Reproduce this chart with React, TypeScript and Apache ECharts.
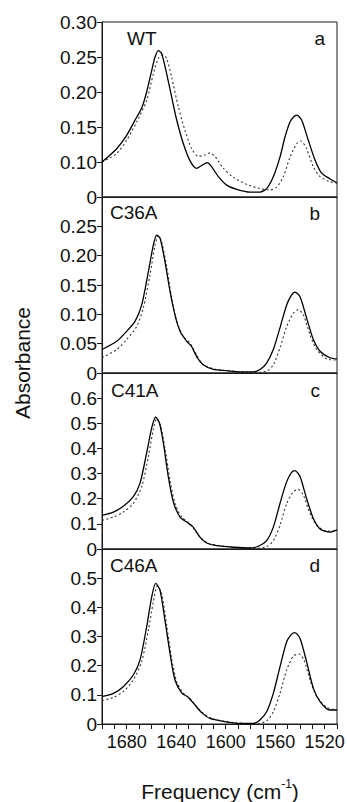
import React, { useEffect, useRef } from "react";
import * as echarts from "echarts";

// Frequency axis (cm-1), reversed
const freqMin = 1510;
const freqMax = 1700;
const freqTickStep = 10;
const freqLabelStep = 40;

// Panel names
const panelNames = ["WT", "C36A", "C41A", "C46A"];
const panelLetters = ["a", "b", "c", "d"];

// Y axis scales (panel a's bottom tick is printed as "0")
const yMins = [0.05, 0, 0, 0];
const yMaxs = [0.3, 0.3, 0.7, 0.6];
const yIntervals = [0.05, 0.05, 0.1, 0.1];
const yDecimals = [2, 2, 1, 1];

// [frequency, absorbance]
const wtSolid = [
  [1700, 0.1], [1688.1, 0.119], [1680.1, 0.138], [1672.0, 0.164], [1667.9, 0.177],
  [1663.9, 0.2], [1659.8, 0.231], [1657.1, 0.25], [1654.5, 0.259], [1651.8, 0.255],
  [1647.7, 0.226], [1643.7, 0.193], [1639.6, 0.16], [1634.2, 0.126], [1628.9, 0.102],
  [1623.5, 0.091], [1619.4, 0.095], [1614.8, 0.099], [1611.3, 0.093], [1605.9, 0.079],
  [1599.2, 0.067], [1591.1, 0.061], [1580.3, 0.057], [1572.3, 0.057], [1566.9, 0.062],
  [1561.5, 0.079], [1556.1, 0.107], [1552.0, 0.136], [1548.0, 0.157], [1545.3, 0.164],
  [1542.6, 0.167], [1538.6, 0.16], [1533.2, 0.131], [1527.8, 0.103], [1522.4, 0.084],
  [1515.8, 0.076], [1510, 0.07],
];
const wtDotted = [
  [1700, 0.1], [1688.1, 0.112], [1680.1, 0.131], [1672.0, 0.157], [1663.9, 0.188],
  [1658.5, 0.226], [1654.5, 0.248], [1650.4, 0.253], [1647.7, 0.248], [1643.7, 0.221],
  [1638.3, 0.179], [1632.9, 0.145], [1627.5, 0.119], [1622.1, 0.108], [1616.7, 0.11],
  [1612.7, 0.113], [1608.6, 0.108], [1601.9, 0.091], [1593.8, 0.078], [1583.0, 0.068],
  [1572.3, 0.062], [1564.2, 0.06], [1558.8, 0.064], [1553.4, 0.079], [1548.0, 0.107],
  [1542.6, 0.126], [1539.1, 0.13], [1534.6, 0.119], [1529.1, 0.093], [1523.7, 0.079],
  [1515.8, 0.072], [1510, 0.07],
];
const c36aSolid = [
  [1700, 0.04], [1688.1, 0.054], [1680.1, 0.071], [1673.3, 0.088], [1667.9, 0.116],
  [1662.5, 0.173], [1658.5, 0.218], [1655.8, 0.235], [1653.1, 0.23], [1649.1, 0.19],
  [1645.0, 0.139], [1641.0, 0.099], [1636.9, 0.071], [1631.5, 0.054], [1627.5, 0.045],
  [1623.5, 0.028], [1618.1, 0.014], [1610.0, 0.006], [1599.2, 0.004], [1588.4, 0.002],
  [1577.6, 0.002], [1572.3, 0.006], [1566.9, 0.017], [1561.5, 0.04], [1556.1, 0.077],
  [1550.7, 0.116], [1546.7, 0.133], [1544.0, 0.138], [1539.9, 0.13], [1534.6, 0.094],
  [1529.1, 0.057], [1523.7, 0.037], [1515.8, 0.026], [1510, 0.024],
];
const c36aDotted = [
  [1700, 0.026], [1688.1, 0.04], [1680.1, 0.057], [1672.0, 0.079], [1666.6, 0.111],
  [1661.2, 0.167], [1657.1, 0.218], [1654.5, 0.234], [1651.8, 0.224], [1647.7, 0.181],
  [1643.7, 0.128], [1639.6, 0.088], [1634.2, 0.062], [1628.9, 0.051], [1623.5, 0.031],
  [1618.1, 0.014], [1607.3, 0.006], [1593.8, 0.003], [1577.6, 0.001], [1566.9, 0.003],
  [1561.5, 0.014], [1556.1, 0.043], [1550.7, 0.079], [1545.3, 0.102], [1541.3, 0.108],
  [1537.2, 0.099], [1531.8, 0.065], [1526.4, 0.04], [1518.4, 0.024], [1510, 0.022],
];
const c41aSolid = [
  [1700, 0.134], [1690.8, 0.147], [1682.8, 0.17], [1674.7, 0.208], [1669.3, 0.261],
  [1663.9, 0.382], [1659.8, 0.482], [1656.6, 0.525], [1653.6, 0.502], [1650.4, 0.422],
  [1646.4, 0.288], [1642.3, 0.187], [1636.9, 0.127], [1631.5, 0.107], [1626.2, 0.087],
  [1620.8, 0.047], [1615.4, 0.024], [1607.3, 0.013], [1593.8, 0.007], [1580.3, 0.004],
  [1573.6, 0.011], [1566.9, 0.033], [1561.5, 0.087], [1556.1, 0.181], [1550.7, 0.268],
  [1546.7, 0.305], [1544.0, 0.312], [1539.9, 0.288], [1534.6, 0.201], [1529.1, 0.121],
  [1523.7, 0.08], [1515.8, 0.067], [1510, 0.076],
];
const c41aDotted = [
  [1700, 0.114], [1690.8, 0.127], [1682.8, 0.147], [1674.7, 0.181], [1667.9, 0.248],
  [1662.5, 0.368], [1658.5, 0.475], [1655.8, 0.518], [1652.6, 0.489], [1649.1, 0.402],
  [1645.0, 0.274], [1641.0, 0.181], [1635.6, 0.127], [1630.2, 0.107], [1624.8, 0.074],
  [1619.4, 0.04], [1612.7, 0.02], [1593.8, 0.007], [1574.9, 0.003], [1566.9, 0.009],
  [1561.5, 0.033], [1556.1, 0.094], [1550.7, 0.181], [1545.3, 0.228], [1541.3, 0.237],
  [1537.2, 0.214], [1531.8, 0.141], [1526.4, 0.094], [1518.4, 0.071], [1510, 0.074],
];
const c46aSolid = [
  [1700, 0.094], [1690.8, 0.105], [1682.8, 0.128], [1674.7, 0.168], [1669.3, 0.219],
  [1663.9, 0.333], [1659.8, 0.436], [1656.6, 0.482], [1653.1, 0.459], [1649.1, 0.356],
  [1645.0, 0.242], [1641.0, 0.151], [1635.6, 0.107], [1630.2, 0.091], [1624.8, 0.065],
  [1619.4, 0.039], [1612.7, 0.019], [1601.9, 0.009], [1588.4, 0.002], [1577.6, 0.002],
  [1572.3, 0.014], [1566.9, 0.042], [1561.5, 0.105], [1556.1, 0.196], [1550.7, 0.282],
  [1546.7, 0.308], [1544.0, 0.313], [1539.9, 0.293], [1534.6, 0.214], [1529.1, 0.122],
  [1523.7, 0.077], [1515.8, 0.048], [1510, 0.048],
];
const c46aDotted = [
  [1700, 0.08], [1690.8, 0.091], [1682.8, 0.111], [1674.7, 0.151], [1667.9, 0.214],
  [1662.5, 0.322], [1658.5, 0.419], [1655.3, 0.473], [1651.8, 0.448], [1647.7, 0.339],
  [1643.7, 0.225], [1639.6, 0.145], [1634.2, 0.105], [1628.9, 0.088], [1623.5, 0.059],
  [1618.1, 0.037], [1610.0, 0.017], [1593.8, 0.005], [1574.9, 0.0], [1566.9, 0.011],
  [1561.5, 0.042], [1556.1, 0.105], [1550.7, 0.185], [1545.3, 0.233], [1540.7, 0.24],
  [1536.7, 0.219], [1531.8, 0.151], [1526.4, 0.094], [1518.4, 0.057], [1510, 0.048],
];

const solidSeries = [wtSolid, c36aSolid, c41aSolid, c46aSolid];
const dottedSeries = [wtDotted, c36aDotted, c41aDotted, c46aDotted];

const FONT = "'Liberation Sans', Arial, Helvetica, sans-serif";

export default function App() {
  const ref = useRef<HTMLDivElement>(null);

  useEffect(() => {
    if (!ref.current) return;
    const chart = echarts.init(ref.current, undefined, { renderer: "svg" });

    const tops = [22, 197, 373, 549];
    const heights = [175, 176, 176, 175];
    const left = 102;
    const width = 235;

    const grids = tops.map((t, i) => ({
      left,
      top: t,
      width,
      height: heights[i],
      show: true,
      borderColor: "#1a1a1a",
      borderWidth: 1,
      backgroundColor: "transparent",
      containLabel: false,
      outerBoundsMode: "none",
    }));

    const xAxes = tops.map((_, i) => {
      const bottom = i === tops.length - 1;
      return {
        type: "value",
        gridIndex: i,
        min: freqMin,
        max: freqMax,
        interval: freqTickStep,
        inverse: true,
        axisLine: { show: true, lineStyle: { color: "#1a1a1a", width: 1 } },
        axisTick: { show: bottom, length: 5, lineStyle: { color: "#1a1a1a" } },
        axisLabel: {
          show: bottom,
          margin: 9,
          fontSize: 18,
          fontFamily: FONT,
          color: "#111",
          hideOverlap: false,
          formatter: (v: number) => (Math.round(v) % freqLabelStep === 0 && Math.round(v) !== freqMax ? String(Math.round(v)) : ""),
        },
        splitLine: { show: false },
      };
    });

    const yAxes = tops.map((_, i) => ({
      type: "value",
      gridIndex: i,
      min: yMins[i],
      max: yMaxs[i],
      interval: yIntervals[i],
      axisLine: { show: true, lineStyle: { color: "#1a1a1a", width: 1 } },
      axisTick: { show: true, length: 5, lineStyle: { color: "#1a1a1a" } },
      axisLabel: {
        margin: 5,
        fontSize: 19,
        fontFamily: FONT,
        color: "#111",
        formatter: (v: number) => {
          if (Math.abs(v - yMins[i]) < 1e-6) return "0";
          if (i > 0 && Math.abs(v - yMaxs[i]) < 1e-6) return "";
          return v.toFixed(yDecimals[i]);
        },
      },
      splitLine: { show: false },
    }));

    const series: any[] = [];
    tops.forEach((_, i) => {
      series.push({
        type: "line",
        name: panelNames[i] + " solid",
        xAxisIndex: i,
        yAxisIndex: i,
        data: solidSeries[i],
        showSymbol: false,
        smooth: 0.25,
        lineStyle: { color: "#000", width: 1.3, type: "solid" },
        z: 3,
      });
      series.push({
        type: "line",
        name: panelNames[i] + " dotted",
        xAxisIndex: i,
        yAxisIndex: i,
        data: dottedSeries[i],
        showSymbol: false,
        smooth: 0.25,
        lineStyle: { color: "#333", width: 1.1, type: [2, 2.5] },
        z: 2,
      });
    });

    const nameX = [127, 110, 111, 110];
    const nameY = [38.5, 212.5, 390, 565];
    const letterX = [325, 320, 320, 320];
    const letterY = [38.5, 213, 390, 565];

    const graphics: any[] = [];
    tops.forEach((_, i) => {
      graphics.push({
        type: "text",
        x: nameX[i],
        y: nameY[i],
        style: {
          text: panelNames[i],
          font: `19px ${FONT}`,
          fill: "#111",
          textAlign: "left",
          textVerticalAlign: "middle",
        },
      });
      graphics.push({
        type: "text",
        x: letterX[i],
        y: letterY[i],
        style: {
          text: panelLetters[i],
          font: `19px ${FONT}`,
          fill: "#111",
          textAlign: "right",
          textVerticalAlign: "middle",
        },
      });
    });
    graphics.push({
      type: "text",
      x: 22,
      y: 363,
      rotation: Math.PI / 2,
      style: {
        text: "Absorbance",
        font: `21px ${FONT}`,
        fill: "#111",
        textAlign: "center",
        textVerticalAlign: "middle",
      },
    });
    graphics.push({
      type: "text",
      x: 220,
      y: 790,
      style: {
        text: "{n|Frequency (cm}{s|-1}{n|)}",
        fill: "#111",
        textAlign: "center",
        textVerticalAlign: "middle",
        rich: {
          n: { fontSize: 21, fontFamily: FONT, lineHeight: 24, fill: "#111", color: "#111", verticalAlign: "bottom" },
          s: { fontSize: 12, fontFamily: FONT, lineHeight: 24, fill: "#111", color: "#111", verticalAlign: "top", padding: [0, 0, 0, 0] },
        },
      },
    });

    chart.setOption({
      animation: false,
      backgroundColor: "#fff",
      grid: grids,
      xAxis: xAxes,
      yAxis: yAxes,
      series,
      graphic: graphics,
    });

    return () => chart.dispose();
  }, []);

  return (
    <div
      ref={ref}
      style={{ position: "fixed", left: 0, top: 0, width: 347, height: 802, background: "#fff" }}
    />
  );
}
